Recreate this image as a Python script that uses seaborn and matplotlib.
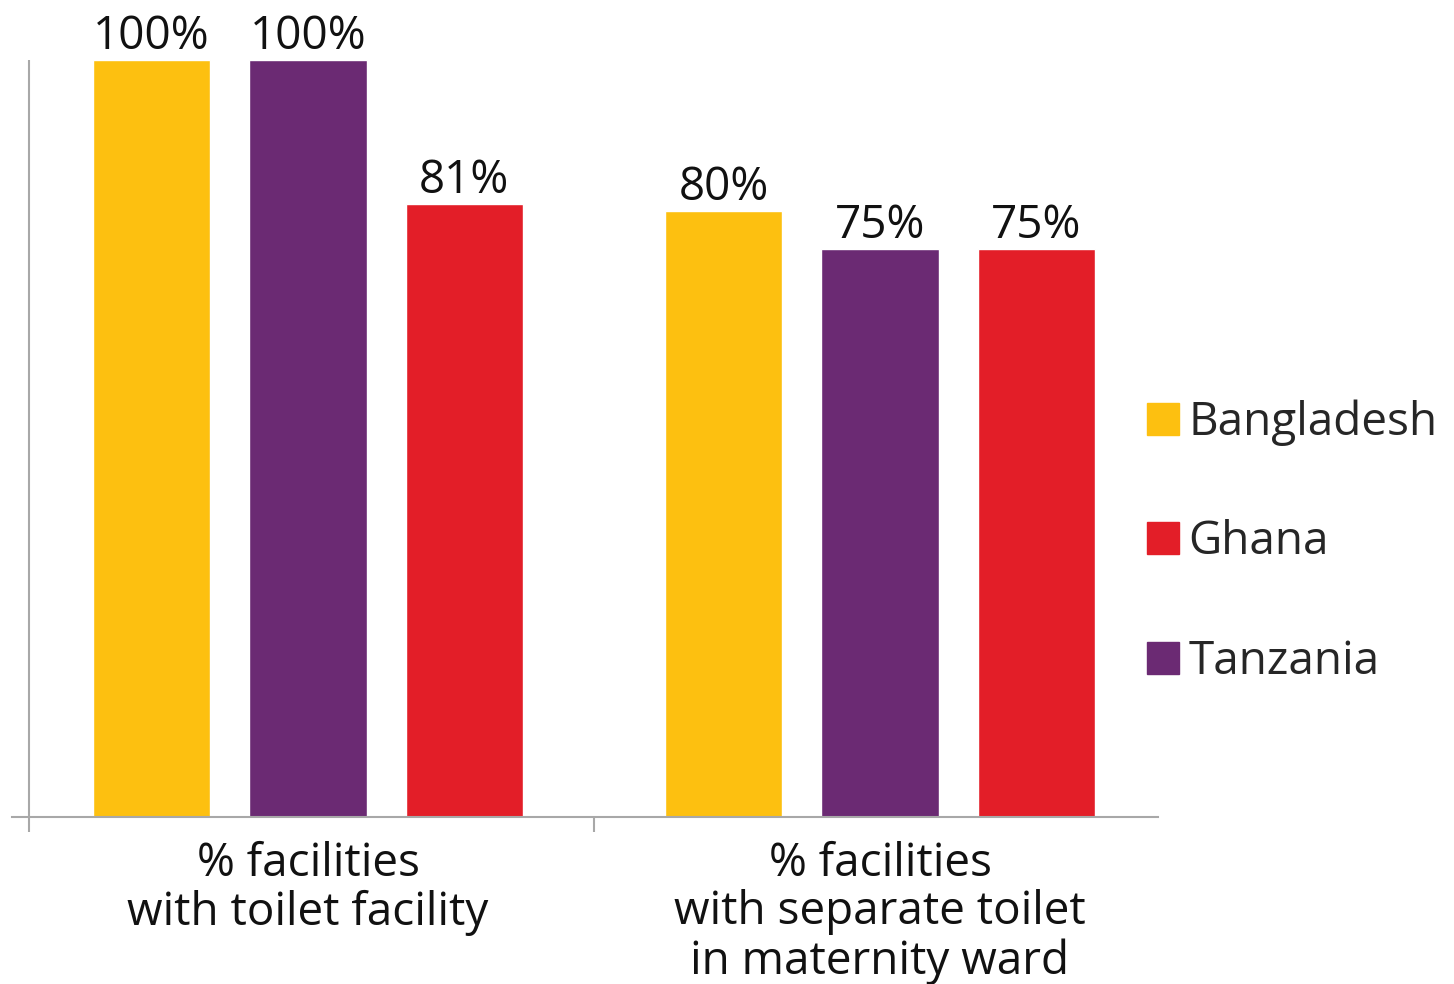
import pandas as pd
import matplotlib.pyplot as plt
import matplotlib.patches as mpatches
import seaborn as sns

# data
groups = ["% facilities\nwith toilet facility",
          "% facilities\nwith separate toilet\nin maternity ward"]
bar_order = ["Bangladesh", "Tanzania", "Ghana"]
legend_order = ["Bangladesh", "Ghana", "Tanzania"]
bangladesh = [100, 80]
tanzania = [100, 75]
ghana = [81, 75]

colors = {"Bangladesh": "#FDC010", "Ghana": "#E31E28", "Tanzania": "#6B2A73"}

df = pd.DataFrame({
    "group": groups * 3,
    "country": ["Bangladesh"] * 2 + ["Tanzania"] * 2 + ["Ghana"] * 2,
    "value": bangladesh + tanzania + ghana,
})

sns.set_theme(style="white")
plt.rcParams['font.family'] = ['Open Sans', 'DejaVu Sans']
fs = 33
axis_grey = "#A8A8A8"

W, H = 1454, 984
fig = plt.figure(figsize=(W / 100, H / 100), dpi=100)
ax = fig.add_axes([12 / W, 1 - 817 / H, (1158 - 12) / W, (817 - 60) / H])

sns.barplot(data=df, x="group", y="value", hue="country", hue_order=bar_order,
            palette=colors, width=0.82, gap=0.25, saturation=1, legend=False,
            errorbar=None, ax=ax)

ax.set_ylim(0, 100)
ax.set_xlim(-0.5175, 1.486)
for s in ["top", "right", "left"]:
    ax.spines[s].set_visible(False)
ax.spines["bottom"].set_color(axis_grey)
ax.spines["bottom"].set_linewidth(1.5)
ax.axvline(-0.4878, color=axis_grey, lw=1.5, zorder=0)

ax.set_yticks([])
ax.set_xlabel("")
ax.set_ylabel("")
ax.set_xticks([-0.4878, 0.5], minor=True)
ax.tick_params(axis="x", which="minor", length=11, width=1.5, color=axis_grey, bottom=True)
ax.tick_params(axis="x", which="major", length=0, pad=17, labelsize=fs, labelcolor="#111111")
for lab in ax.get_xticklabels():
    lab.set_linespacing(1.08)

for cont in ax.containers:
    ax.bar_label(cont, labels=[f"{v:.0f}%" for v in cont.datavalues],
                 fontsize=fs, padding=0, color="#111111")

handles = [mpatches.Patch(color=colors[c], label=c) for c in legend_order]
fig.legend(handles=handles, loc="center left", bbox_to_anchor=(1147 / W, 1 - 542 / H),
           frameon=False, fontsize=fs, handlelength=0.7, handleheight=0.7,
           handletextpad=0.2, labelspacing=1.6, borderpad=0, borderaxespad=0)

fig.savefig("out.png", dpi=100)
